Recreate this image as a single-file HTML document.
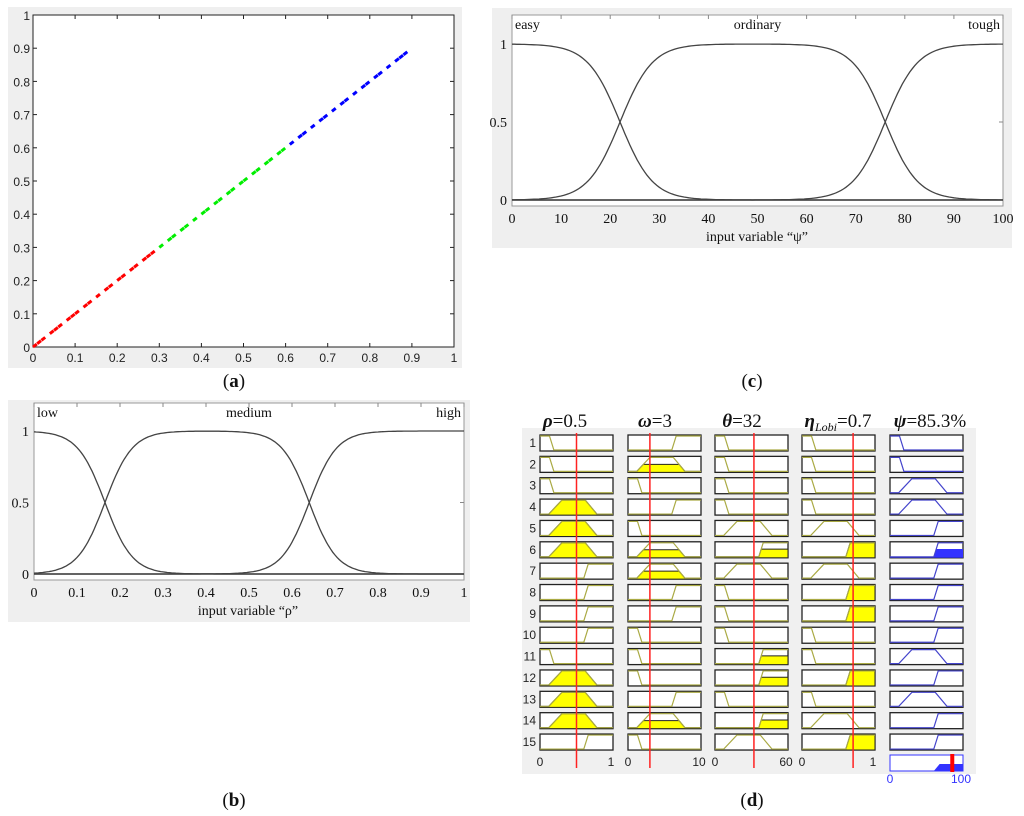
<!DOCTYPE html>
<html><head><meta charset="utf-8"><style>
body{margin:0;background:#fff;}
svg{display:block;}
.tk{font-family:"Liberation Sans",sans-serif;font-size:12px;fill:#222;}
.sf{font-family:"Liberation Serif",serif;fill:#111;}
</style></head><body>
<svg id="fig" width="1024" height="816" viewBox="0 0 1024 816" xmlns="http://www.w3.org/2000/svg">
<g id="pa"></g>
<g id="pb"></g>
<g id="pc"></g>
<g id="pd"></g>
<text x="234" y="387" class="sf" font-size="19" text-anchor="middle">(<tspan font-weight="bold">a</tspan>)</text>
<text x="752" y="387" class="sf" font-size="19" text-anchor="middle">(<tspan font-weight="bold">c</tspan>)</text>
<text x="234" y="806" class="sf" font-size="19" text-anchor="middle">(<tspan font-weight="bold">b</tspan>)</text>
<text x="752" y="806" class="sf" font-size="19" text-anchor="middle">(<tspan font-weight="bold">d</tspan>)</text>
</svg>
<script>
// ---- Panel (a) data ----
const redX = [0,0.01,0.02,0.04,0.05,0.06,0.08,0.09,0.1,0.12,0.13,0.15,0.17,0.18,0.2,0.21,0.23,0.24,0.26,0.27,0.28];
const greenX = [0.3,0.32,0.33,0.35,0.36,0.38,0.4,0.41,0.43,0.44,0.46,0.47,0.49,0.5,0.52,0.53,0.55,0.56,0.58,0.59];
const blueX = [0.61,0.63,0.64,0.66,0.68,0.69,0.71,0.73,0.74,0.76,0.78,0.79,0.81,0.82,0.84,0.86,0.87,0.88];
const aTicks = [0,0.1,0.2,0.3,0.4,0.5,0.6,0.7,0.8,0.9,1];
// ---- Panel (b) membership centres ----
const bNames = ["low","medium","high"];
const bCross = [0.165,0.64];
const bTicks = [0,0.1,0.2,0.3,0.4,0.5,0.6,0.7,0.8,0.9,1];
// ---- Panel (c) ----
const cNames = ["easy","ordinary","tough"];
const cCross = [22,76];
const cTicks = [0,10,20,30,40,50,60,70,80,90,100];
const yTicksMF = [0,0.5,1];
// ---- Panel (d) rule base ----
const dTitles = ["ρ=0.5","ω=3","θ=32","ηLobi=0.7","ψ=85.3%"];
const dInputs = [0.5,3,32,0.7];
const dRanges = [[0,1],[0,10],[0,60],[0,1]];
const col1 = ["L","L","L","M","M","M","H","H","H","H","L","M","M","M","H"];
const col2 = ["H","M","L","H","L","M","M","H","H","L","L","L","H","M","L"];
const col3 = ["L","L","L","L","M","H","M","L","L","L","H","H","L","H","M"];
const col4 = ["L","L","L","L","M","H","M","H","H","L","L","H","L","M","H"];
const col5 = ["L","L","M","M","H","H","H","H","H","H","M","H","M","H","H"];
const fire1 = [0,0,0,1,1,1,0,0,0,0,0,1,1,1,0];
const fire2 = [0,0.5,0,0,0,0.5,0.5,0,0,0,0,0,0,0.5,0];
const fire3 = [0,0,0,0,0,0.55,0,0,0,0,0.55,0.55,0,0.55,0];
const fire4 = [0,0,0,0,0,1,0,1,1,0,0,1,0,0,1];
const outVal = 85.3;

const NS="http://www.w3.org/2000/svg";
function mk(p,t,a){const e=document.createElementNS(NS,t);for(const k in a)e.setAttribute(k,a[k]);p.appendChild(e);return e;}
const sig=(x,c,s)=>1/(1+Math.exp(-(x-c)/s));

// Panel a
(function(){
 const g=document.getElementById('pa');
 mk(g,'rect',{x:8,y:7,width:454,height:361,fill:'#efefef'});
 const L=33,R=454,T=15,B=347;
 const X=v=>L+(R-L)*v, Y=v=>B-(B-T)*v;
 const f=mk(g,'rect',{x:L,y:T,width:R-L,height:B-T,fill:'#fff',stroke:'#222','stroke-width':1});
 
 aTicks.forEach(v=>{
  mk(g,'line',{x1:X(v),x2:X(v),y1:B,y2:B-4,stroke:'#222'});mk(g,'line',{x1:X(v),x2:X(v),y1:T,y2:T+4,stroke:'#222'});
  mk(g,'line',{x1:L,x2:L+4,y1:Y(v),y2:Y(v),stroke:'#222'});mk(g,'line',{x1:R,x2:R-4,y1:Y(v),y2:Y(v),stroke:'#222'});
  const t=mk(g,'text',{x:X(v),y:B+15,class:'tk','text-anchor':'middle'});t.textContent=v;
  
  const u=mk(g,'text',{x:L-3,y:Y(v)+5,class:'tk','text-anchor':'end'});u.textContent=v;
  
 });
 [[redX,'#f00','red'],[greenX,'#0e0','green'],[blueX,'#00f','blue']].forEach(([arr,c,n])=>{
  arr.forEach(v=>{const l=mk(g,'line',{x1:X(v),y1:Y(v),x2:X(v+0.009),y2:Y(v+0.009),stroke:c,'stroke-width':3});
   });
 });
})();

function mfPanel(gid,box,L,R,T,Y1,Y0,ticks,max,names,cross,s,xlabel,labx){
 const g=document.getElementById(gid);
 mk(g,'rect',{x:box[0],y:box[1],width:box[2],height:box[3],fill:'#efefef'});
 mk(g,'rect',{x:L,y:T,width:R-L,height:Y0+6-T,fill:'#fff',stroke:'#999'});
 const X=v=>L+(R-L)*v/max, Y=v=>Y0-(Y0-Y1)*v;
 ticks.forEach(v=>{mk(g,'line',{x1:X(v),x2:X(v),y1:T,y2:T+4,stroke:'#888'});
  const t=mk(g,'text',{x:X(v),y:Y0+23,class:'sf','font-size':14,'text-anchor':'middle'});t.textContent=v;
  });
 yTicksMF.forEach(v=>{mk(g,'line',{x1:R,x2:R-4,y1:Y(v),y2:Y(v),stroke:'#888'});
  const t=mk(g,'text',{x:L-5,y:Y(v)+5,class:'sf','font-size':14,'text-anchor':'end'});t.textContent=v;
  });
 mk(g,'line',{x1:L,x2:R,y1:Y0,y2:Y0,stroke:'#333','stroke-width':1.5});
 const fns=[x=>1-sig(x,cross[0],s),x=>sig(x,cross[0],s)*(1-sig(x,cross[1],s)),x=>sig(x,cross[1],s)];
 fns.forEach((fn,i)=>{let d='';for(let k=0;k<=200;k++){const x=max*k/200;d+=(k?'L':'M')+X(x).toFixed(1)+','+Y(fn(x)).toFixed(1);}
  const p=mk(g,'path',{d:d,fill:'none',stroke:'#444','stroke-width':1.3});
  });
 const lx=[L+3,(L+R)/2,R-3],an=['start','middle','end'];
 names.forEach((n,i)=>{const t=mk(g,'text',{x:lx[i],y:T+14,class:'sf','font-size':14,'text-anchor':an[i]});t.textContent=n;
  });
 const t=mk(g,'text',{x:labx,y:Y0+41,class:'sf','font-size':14,'text-anchor':'middle'});t.textContent=xlabel;
 
}
mfPanel('pb',[8,400,462,222],34,464,403,431,574,bTicks,1,bNames,bCross,0.032,'input variable “ρ”',248);
mfPanel('pc',[492,8,520,240],512,1003,15,44,200,cTicks,100,cNames,cCross,3.3,'input variable “ψ”',757);

// Panel d
(function(){
 const g=document.getElementById('pd');
 mk(g,'rect',{x:522,y:428,width:454,height:346,fill:'#f0f0f0'});
 const colX=[540,628,715,802,890], W=73, H=16, top0=435, pitch=21.36;
 const cols=[col1,col2,col3,col4,col5], fires=[fire1,fire2,fire3,fire4];
 const tx=[565,655,742,838,930];
 dTitles.forEach((s,i)=>{const t=mk(g,'text',{x:tx[i],y:427,class:'sf','font-size':19,'text-anchor':'middle'});
  
  const m=s.split('=');const a=mk(t,'tspan',{'font-style':'italic','font-weight':'bold'});
  if(i===3){a.textContent='η';const sb=mk(t,'tspan',{'font-size':12,dy:4,'font-style':'italic'});sb.textContent='Lobi';const r=mk(t,'tspan',{dy:-4});r.textContent='='+m[1];}
  else{a.textContent=m[0];const r=mk(t,'tspan',{});r.textContent='='+m[1];}
 });
 function shape(type,x,y){
  const b=y+H-1,tp=y+1;
  if(type==='L')return [[x,tp],[x+0.13*W,tp],[x+0.19*W,b],[x+W,b]];
  if(type==='H')return [[x,b],[x+0.60*W,b],[x+0.66*W,tp],[x+W,tp]];
  return [[x,b],[x+0.12*W,b],[x+0.3*W,tp],[x+0.62*W,tp],[x+0.78*W,b],[x+W,b]];
 }
 for(let r=0;r<15;r++){
  const y=top0+r*pitch;
  const rn=mk(g,'text',{x:536,y:y+12,class:'tk','font-size':10,'text-anchor':'end'});rn.textContent=r+1;
  
  for(let c=0;c<5;c++){
   const x=colX[c], type=cols[c][r];
   const box=mk(g,'rect',{x:x,y:y,width:W,height:H,fill:'#fff',stroke:'#222','stroke-width':1.3});
   
   const pts=shape(type,x,y);
   const isOut=c===4;
   if(!isOut && fires[c][r]>0){
    const f=fires[c][r], cy=y+H-1-(H-2)*f;
    const id='cl'+r+'_'+c;
    const cp=mk(g,'clipPath',{id:id});mk(cp,'rect',{x:x,y:cy,width:W,height:y+H-cy});
    const poly=pts.map(p=>p.join(',')).join(' ')+' '+(x+W)+','+(y+H)+' '+x+','+(y+H);
    const fl=mk(g,'polygon',{points:poly,fill:'#ff0',stroke:'#222','clip-path':'url(#'+id+')'});
    
    if(f<1){
     const ext = type==='H' ? [x+0.63*W,x+W] : type==='L' ? [x,x+0.16*W] : [x+0.21*W,x+0.7*W];
     mk(g,'line',{x1:ext[0],x2:ext[1],y1:cy,y2:cy,stroke:'#222'});
    }
   }
   if(isOut && r===5){
    const id='co'+r;const cp=mk(g,'clipPath',{id:id});mk(cp,'rect',{x:x,y:y+H*0.45,width:W,height:H});
    mk(g,'polygon',{points:pts.map(p=>p.join(',')).join(' ')+' '+(x+W)+','+(y+H)+' '+x+','+(y+H),fill:'#33f','clip-path':'url(#'+id+')'});
   }
   mk(g,'polyline',{points:pts.map(p=>p.join(',')).join(' '),fill:'none',stroke:isOut?'#44c':'#aa4','stroke-width':1.2});
  }
 }
 dInputs.forEach((v,i)=>{const x=colX[i]+W*(v-dRanges[i][0])/(dRanges[i][1]-dRanges[i][0]);
  const l=mk(g,'line',{x1:x,x2:x,y1:433,y2:768,stroke:'#f22','stroke-width':1.5});
  
  const a=mk(g,'text',{x:colX[i],y:766,class:'tk','font-size':11,'text-anchor':'middle'});a.textContent=dRanges[i][0];
  const b=mk(g,'text',{x:colX[i]+W-2,y:766,class:'tk','font-size':11,'text-anchor':'middle'});b.textContent=dRanges[i][1];
 });
 const ox=890,oy=755;
 mk(g,'rect',{x:ox,y:oy,width:W,height:16,fill:'#fff',stroke:'#33f'});
 const vx=ox+W*outVal/100;
 mk(g,'polygon',{points:`${ox+0.6*W},${oy+16} ${ox+0.68*W},${oy+9} ${ox+W},${oy+9} ${ox+W},${oy+16}`,fill:'#33f'});
 const ol=mk(g,'rect',{x:vx-2,y:oy-1,width:4,height:18,fill:'#f00'});
 
 const a=mk(g,'text',{x:ox,y:783,class:'tk','font-size':11,'text-anchor':'middle'});a.textContent='0';a.style.fill='#33f';
 const b=mk(g,'text',{x:ox+W-2,y:783,class:'tk','font-size':11,'text-anchor':'middle'});b.textContent='100';b.style.fill='#33f';
})();
</script>
</body></html>
